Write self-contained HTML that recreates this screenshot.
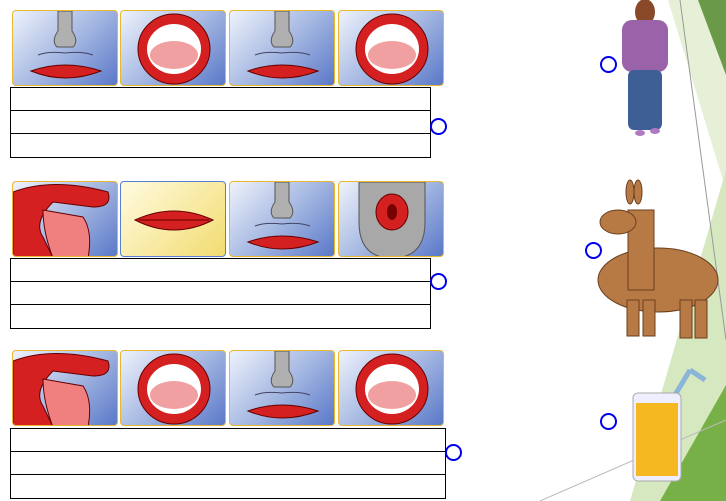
<!DOCTYPE html>
<html><head><style>
body{margin:0;width:726px;height:501px;background:#fff;position:relative;overflow:hidden;font-family:"Liberation Sans",sans-serif}
.c{position:absolute;width:106px;height:76px;border:1.5px solid #e8b830;border-radius:4px;background:linear-gradient(135deg,#eef2fb 0%,#9fb3e0 55%,#5a78c8 100%);box-sizing:border-box;overflow:hidden}
.c svg{position:absolute;left:0;top:0}
.y{background:linear-gradient(135deg,#fffbe0,#f2dc70);border-color:#5a7fd0}
.t{position:absolute;border:1px solid #000;box-sizing:border-box}
.t div{height:23px;border-bottom:1px solid #000;box-sizing:border-box}
.t div:last-child{border-bottom:none}
.o{position:absolute;width:13px;height:13px;border:2px solid #0000ee;border-radius:50%}
</style></head><body>
<svg style="position:absolute;left:0;top:0" width="726" height="501">
<defs>
<g id="A"><path d="M45,0 L45,20 Q38,30 44,36 L60,36 Q66,30 59,20 L59,0Z" fill="#b0b0b0" stroke="#555"/>
<path d="M25,44 Q35,40 52,42 Q69,40 80,44" stroke="#446" fill="none"/>
<path d="M18,60 Q52,48 88,60 Q52,74 18,60Z" fill="#d42020" stroke="#600"/></g>
<g id="B"><ellipse cx="53" cy="38" rx="36" ry="35" fill="#d42020" stroke="#600"/>
<ellipse cx="53" cy="38" rx="27" ry="25" fill="#fff"/><ellipse cx="53" cy="44" rx="24" ry="14" fill="#f0a0a0"/></g>
<g id="T"><path d="M0,10 Q40,-5 95,10 Q100,25 80,25 L40,20 Q20,40 30,55 L40,76 L0,76Z" fill="#d42020" stroke="#600"/>
<path d="M30,28 L70,35 Q80,50 75,76 L40,76 Q30,50 30,28Z" fill="#f08080" stroke="#600"/></g>
<g id="L"><path d="M14,38 Q53,20 92,38 Q53,58 14,38Z" fill="#d42020" stroke="#600"/><line x1="18" y1="38" x2="88" y2="38" stroke="#600"/></g>
<g id="K"><path d="M20,0 L86,0 L86,40 Q86,76 53,76 Q20,76 20,40Z" fill="#a8a8a8" stroke="#555"/>
<ellipse cx="53" cy="30" rx="16" ry="18" fill="#d42020" stroke="#600"/><ellipse cx="53" cy="30" rx="5" ry="8" fill="#700"/></g>
</defs>
<g transform="translate(12,10)"><rect width="106" height="76" rx="4" fill="url(#gb)" opacity="0"/></g>
<polygon points="668,0 726,0 726,190" fill="#e6f0d6"/>
<polygon points="698,0 726,0 726,75" fill="#6a9a48"/>
<polygon points="726,170 726,501 630,501" fill="#d6e8bf"/>
<polygon points="726,385 726,501 660,501" fill="#78b048"/>
<line x1="680" y1="0" x2="726" y2="340" stroke="#999" stroke-width="1"/>
<line x1="540" y1="501" x2="726" y2="420" stroke="#bbb" stroke-width="1"/>
<ellipse cx="645" cy="12" rx="10" ry="13" fill="#8a4a2a"/>
<rect x="622" y="20" width="46" height="52" rx="10" fill="#9a62a8"/>
<rect x="628" y="70" width="34" height="60" rx="6" fill="#3e5f95"/>
<ellipse cx="640" cy="133" rx="5" ry="3" fill="#b07ac0"/><ellipse cx="655" cy="131" rx="5" ry="3" fill="#b07ac0"/>
<g fill="#b87a45" stroke="#6a3e1e">
<ellipse cx="658" cy="280" rx="60" ry="32"/>
<rect x="628" y="210" width="26" height="80"/>
<ellipse cx="618" cy="222" rx="18" ry="12"/>
<ellipse cx="630" cy="192" rx="4" ry="12"/><ellipse cx="638" cy="192" rx="4" ry="12"/>
<rect x="627" y="300" width="12" height="36"/><rect x="643" y="300" width="12" height="36"/>
<rect x="680" y="300" width="12" height="38"/><rect x="695" y="300" width="12" height="38"/>
</g>
<line x1="666" y1="410" x2="690" y2="370" stroke="#8ab4d8" stroke-width="5"/>
<line x1="690" y1="370" x2="705" y2="380" stroke="#8ab4d8" stroke-width="5"/>
<rect x="633" y="393" width="48" height="88" rx="5" fill="#eef" stroke="#aaa"/>
<rect x="636" y="403" width="42" height="73" fill="#f6b820"/>
</svg>
<div class="c" style="left:12px;top:10px"><svg width="106" height="76"><use href="#A"/></svg></div>
<div class="c" style="left:120px;top:10px"><svg width="106" height="76"><use href="#B"/></svg></div>
<div class="c" style="left:229px;top:10px"><svg width="106" height="76"><use href="#A"/></svg></div>
<div class="c" style="left:338px;top:10px"><svg width="106" height="76"><use href="#B"/></svg></div>
<div class="t" style="left:10px;top:87px;width:421px;height:71px"><div></div><div></div><div></div></div>
<div class="o" style="left:430px;top:118px"></div>
<div class="c" style="left:12px;top:181px"><svg width="106" height="76"><use href="#T"/></svg></div>
<div class="c y" style="left:120px;top:181px"><svg width="106" height="76"><use href="#L"/></svg></div>
<div class="c" style="left:229px;top:181px"><svg width="106" height="76"><use href="#A"/></svg></div>
<div class="c" style="left:338px;top:181px"><svg width="106" height="76"><use href="#K"/></svg></div>
<div class="t" style="left:10px;top:258px;width:421px;height:71px"><div></div><div></div><div></div></div>
<div class="o" style="left:430px;top:273px"></div>
<div class="c" style="left:12px;top:350px"><svg width="106" height="76"><use href="#T"/></svg></div>
<div class="c" style="left:120px;top:350px"><svg width="106" height="76"><use href="#B"/></svg></div>
<div class="c" style="left:229px;top:350px"><svg width="106" height="76"><use href="#A"/></svg></div>
<div class="c" style="left:338px;top:350px"><svg width="106" height="76"><use href="#B"/></svg></div>
<div class="t" style="left:10px;top:428px;width:436px;height:71px"><div></div><div></div><div></div></div>
<div class="o" style="left:445px;top:444px"></div>
<div class="o" style="left:600px;top:56px"></div>
<div class="o" style="left:585px;top:242px"></div>
<div class="o" style="left:600px;top:413px"></div>
</body></html>
